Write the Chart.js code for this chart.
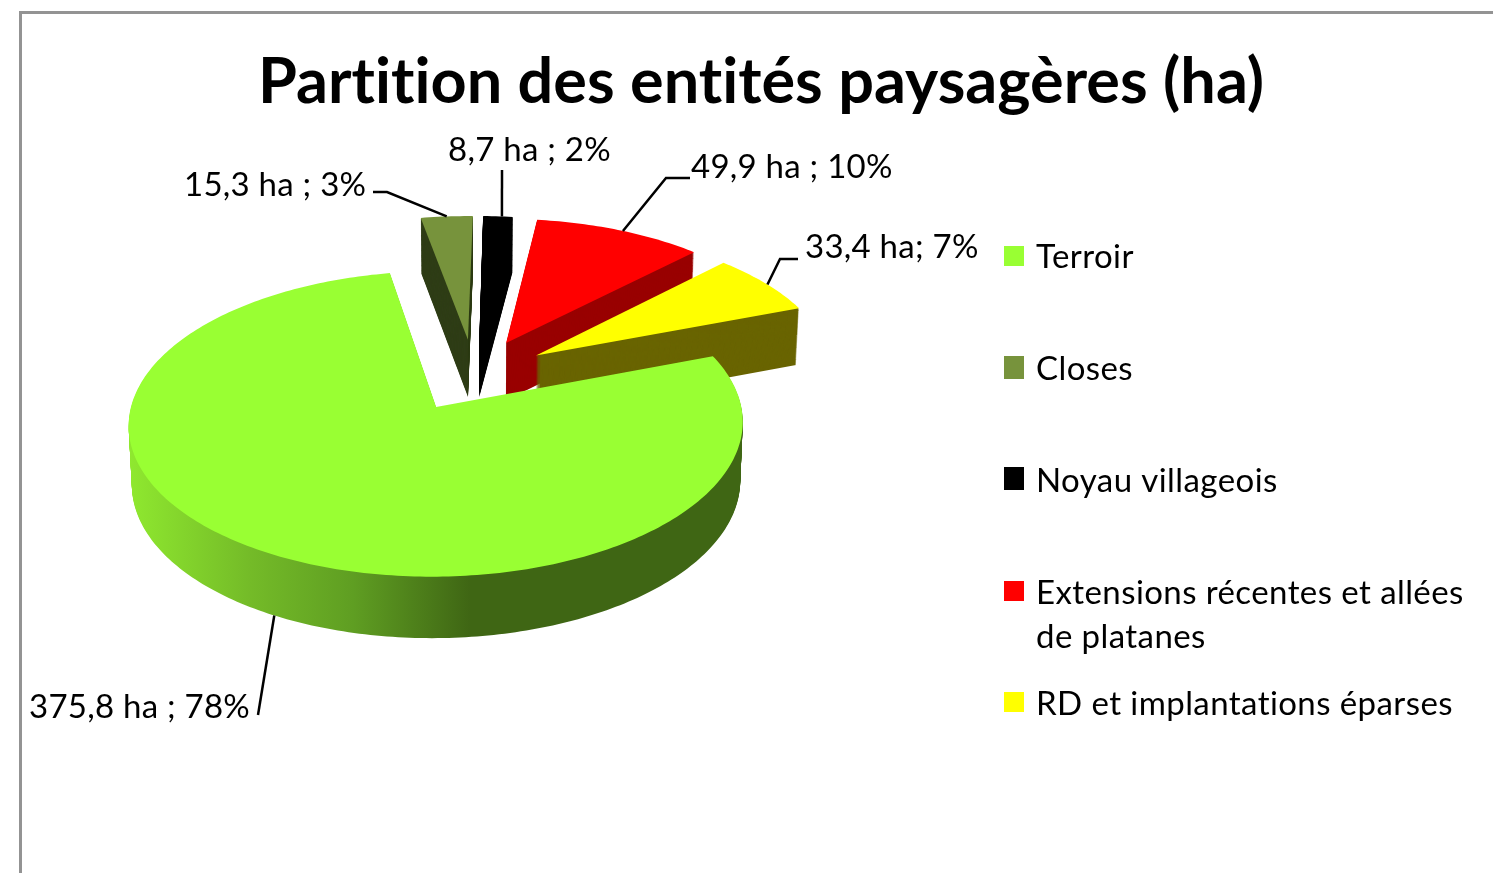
<!DOCTYPE html>
<html lang="fr">
<head>
  <meta charset="utf-8">
  <title>Partition des entités paysagères (ha)</title>
  <script src="https://cdn.jsdelivr.net/npm/chart.js"></script>
  <style>
    html, body { margin: 0; height: 100%; overflow: hidden; background: #fff; }
    #frame {
      position: absolute; left: 19px; top: 11px; width: 1600px; height: 1000px;
      border: 3px solid #939393;
    }
    canvas { position: absolute; left: 0; top: 0; }
  </style>
</head>
<body>
<div id="frame"></div>
<canvas id="pie" width="1522" height="873"></canvas>

<script>
  const titleText = 'Partition des entités paysagères (ha)';
  const categories = ['Terroir', 'Closes', 'Noyau villageois', 'Extensions récentes et allées de platanes', 'RD et implantations éparses'];
  const hectares = [375.8, 15.3, 8.7, 49.9, 33.4];
  const valueLabels = ['375,8 ha ; 78%', '15,3 ha ; 3%', '8,7 ha ; 2%', '49,9 ha ; 10%', '33,4 ha; 7%'];
  const legendLines = [['Terroir'], ['Closes'], ['Noyau villageois'], ['Extensions récentes et allées', 'de platanes'], ['RD et implantations éparses']];

  const topColors = ['#99ff33', '#77933c', '#000000', '#ff0000', '#ffff00'];
  const wallColors = [null, '#2f3d16', '#000000', '#990000', '#696400'];
  const terroirWallStops = [[130, '#8fe82f'], [250, '#74bb28'], [353, '#5f9e22'], [470, '#3f6614'], [740, '#3f6614']];

  // fausse 3D : bascule + perspective appliquées à la géométrie des arcs
  const tilt = 0.483, persp = 0.00036, depth = 58, wallTaper = 0.00016;
  const drawOrder = [1, 2, 3, 4, 0];

  // étiquettes : position du texte, puis coude du trait de rappel
  const labelFont = '33px Lato';
  const labelPos = [[29, 718], [184, 196], [448, 161], [691, 178], [805, 258]];
  const leaderPoints = [[[258, 715]], [[373, 192], [387, 192]], [[502, 170]], [[690, 178], [666, 178]], [[798, 259], [780, 259]]];
  const leaderNudge = [-0.023, 0, 0.015, 0.012, 0.01];
  const legendX = 1004, legendTextX = 1036;
  const legendBoxTop = [246, 356, 467, 581, 692];
  const legendBoxH = [20, 23, 23, 20, 20];
  const legendBase = [268, 380, 492, 604, 715];

  function project(arc, px, py, z) {
    const dx = px - arc.x, dy = py - arc.y;
    const k = 1 / (1 - persp * dy);
    return [arc.x + dx * k * (1 - wallTaper * z), arc.y + tilt * dy * k + z * (1 + (k - 1) * 0.4)];
  }

  function slicePoints(arc, z) {
    const off = arc.options.offset;
    const mid = (arc.startAngle + arc.endAngle) / 2;
    const ax = arc.x + Math.cos(mid) * off, ay = arc.y + Math.sin(mid) * off;
    const pts = [project(arc, ax, ay, z)];
    const steps = Math.max(2, Math.ceil((arc.endAngle - arc.startAngle) * 60));
    for (let i = 0; i <= steps; i++) {
      const a = arc.startAngle + (arc.endAngle - arc.startAngle) * i / steps;
      pts.push(project(arc, ax + Math.cos(a) * arc.outerRadius, ay + Math.sin(a) * arc.outerRadius, z));
    }
    return pts;
  }

  function fillPoly(ctx, pts, fill) {
    ctx.beginPath();
    pts.forEach((p, i) => i ? ctx.lineTo(p[0], p[1]) : ctx.moveTo(p[0], p[1]));
    ctx.closePath();
    ctx.fillStyle = fill;
    ctx.fill();
  }

  const pie3d = {
    id: 'pie3d',
    afterLayout(chart) {
      // le titre reste centré sur tout le canvas malgré le padding du camembert
      chart.titleBlock.left = 0;
      chart.titleBlock.right = chart.width;
    },
    beforeDraw(chart) {
      chart.ctx.letterSpacing = '0.02px';
    },
    beforeDatasetDraw(chart, args) {
      const ctx = chart.ctx;
      const arcs = chart.getDatasetMeta(args.index).data;
      const gradient = ctx.createLinearGradient(130, 0, 740, 0);
      terroirWallStops.forEach(s => gradient.addColorStop((s[0] - 130) / 610, s[1]));

      drawOrder.forEach(i => {
        for (let z = depth; z > 0; z--) {
          fillPoly(ctx, slicePoints(arcs[i], z), wallColors[i] || gradient);
        }
        fillPoly(ctx, slicePoints(arcs[i], 0), topColors[i]);
      });

      // traits de rappel et valeurs
      ctx.strokeStyle = '#000';
      ctx.lineWidth = 2.5;
      ctx.font = labelFont;
      ctx.letterSpacing = '0.25px';
      ctx.fillStyle = '#000';
      ctx.textBaseline = 'alphabetic';
      ctx.textAlign = 'left';
      arcs.forEach((arc, i) => {
        const off = arc.options.offset;
        const mid = (arc.startAngle + arc.endAngle) / 2;
        const ax = arc.x + Math.cos(mid) * off, ay = arc.y + Math.sin(mid) * off;
        const a = mid + leaderNudge[i];
        const anchor = project(arc, ax + Math.cos(a) * arc.outerRadius, ay + Math.sin(a) * arc.outerRadius, i === 0 ? depth : 0);
        ctx.beginPath();
        ctx.moveTo(anchor[0], anchor[1]);
        leaderPoints[i].slice().reverse().forEach(p => ctx.lineTo(p[0], p[1]));
        ctx.stroke();
        ctx.fillText(valueLabels[i], labelPos[i][0], labelPos[i][1]);
      });

      // légende
      ctx.letterSpacing = '0.42px';
      categories.forEach((c, i) => {
        ctx.fillStyle = topColors[i];
        ctx.fillRect(legendX, legendBoxTop[i], 20, legendBoxH[i]);
        ctx.fillStyle = '#000';
        legendLines[i].forEach((line, j) => ctx.fillText(line, legendTextX, legendBase[i] + j * 44));
      });
      ctx.letterSpacing = '0.02px';
      return false;
    }
  };

  new Chart(document.getElementById('pie'), {
    type: 'doughnut',
    data: {
      labels: categories,
      datasets: [{ data: hectares, backgroundColor: topColors, borderWidth: 0, offset: 75 }]
    },
    plugins: [pie3d],
    options: {
      responsive: false,
      animation: false,
      cutout: 0,
      radius: 298,
      rotation: 69.5,
      layout: { padding: { left: 0, right: 574, top: 0, bottom: 250 } },
      plugins: {
        legend: { display: false },
        tooltip: { enabled: false },
        title: {
          display: true,
          text: titleText,
          color: '#000',
          font: { family: 'Lato', size: 63, weight: 'bold' },
          padding: { top: 45, bottom: 6 }
        }
      }
    }
  });
</script>
</body>
</html>
